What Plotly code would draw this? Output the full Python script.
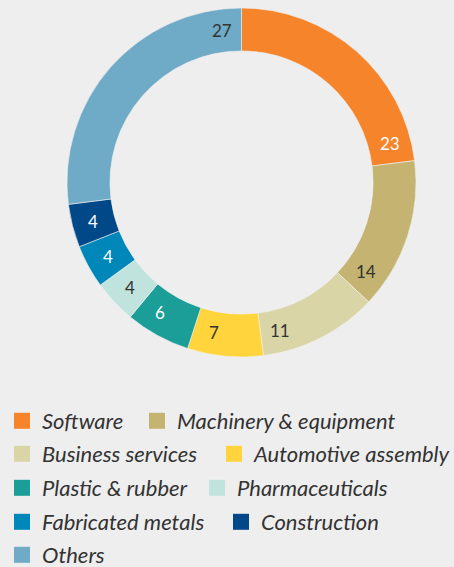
import math
import plotly.graph_objects as go

categories = ["Software", "Machinery & equipment", "Business services", "Automotive assembly",
              "Plastic & rubber", "Pharmaceuticals", "Fabricated metals", "Construction", "Others"]
values = [23, 14, 11, 7, 6, 4, 4, 4, 27]
colors = ["#F5842B", "#C4B371", "#DAD5A6", "#FFD43C", "#1A9E97", "#C0E4DD", "#0087B9", "#004888", "#6FAAC6"]
label_colors = ["#FFFFFF", "#333333", "#333333", "#333333", "#FFFFFF", "#333333", "#FFFFFF", "#FFFFFF", "#333333"]
legend_rows = [1, 1, 2, 2, 3, 3, 4, 4, 5]
# width reserved for first-column entries (px)
legend_entry_widths = [90, None, 167, None, 150, None, 174, None, None]

W, H = 454, 567
BG = "#EEEEEE"
# pie geometry in pixels
cx, cy, r_out, hole = 241.5, 182.5, 174.5, 0.754
r_in = r_out * hole

fig = go.Figure()
fig.add_trace(go.Pie(
    labels=categories, values=values, sort=False, direction="clockwise", rotation=0,
    hole=hole, textinfo="none", hoverinfo="label+value", showlegend=False,
    marker=dict(colors=colors, line=dict(color="#F2F2F2", width=0.6)),
    domain=dict(x=[(cx - r_out) / W, (cx + r_out) / W], y=[1 - (cy + r_out) / H, 1 - (cy - r_out) / H]),
))

# value labels placed near the clockwise end of each slice
total = sum(values)
cum = 0
r_lab = (r_out + r_in) / 2
for v, c in zip(values, label_colors):
    cum += v
    ang = math.radians(cum / total * 360 - 7.5)
    px = cx + r_lab * math.sin(ang)
    py = cy - r_lab * math.cos(ang)
    fig.add_annotation(x=px / W, y=1 - py / H, xref="paper", yref="paper", text=str(v), showarrow=False,
                       font=dict(family="Lato", size=17, color=c), xanchor="center", yanchor="middle")

# legend rows
row_centers = [422, 455, 489, 523, 556]
for name, col, row, ew in zip(categories, colors, legend_rows, legend_entry_widths):
    tr = go.Scatter(x=[None], y=[None], mode="markers", name=name,
                    marker=dict(symbol="square", size=16, color=col),
                    legend="legend" if row == 1 else f"legend{row}", hoverinfo="skip")
    if ew:
        tr.legendwidth = ew
    fig.add_trace(tr)

legend_common = dict(orientation="h", xanchor="left", yanchor="middle", x=2 / W, bgcolor="rgba(0,0,0,0)",
                     font=dict(family="Lato", size=22, color="#333333", style="italic"),
                     itemclick=False, itemdoubleclick=False)
layout_legends = {}
for i, yc in enumerate(row_centers, start=1):
    key = "legend" if i == 1 else f"legend{i}"
    layout_legends[key] = dict(legend_common, y=1 - (yc - 1) / H)

fig.update_layout(
    width=W, height=H, paper_bgcolor=BG, plot_bgcolor=BG,
    margin=dict(l=0, r=0, t=0, b=0, autoexpand=False),
    xaxis=dict(visible=False), yaxis=dict(visible=False),
    **layout_legends,
)
fig.write_html("out.html", config={"displayModeBar": False},
               post_script="document.body.style.margin='0';document.body.style.background='#EEEEEE';")
